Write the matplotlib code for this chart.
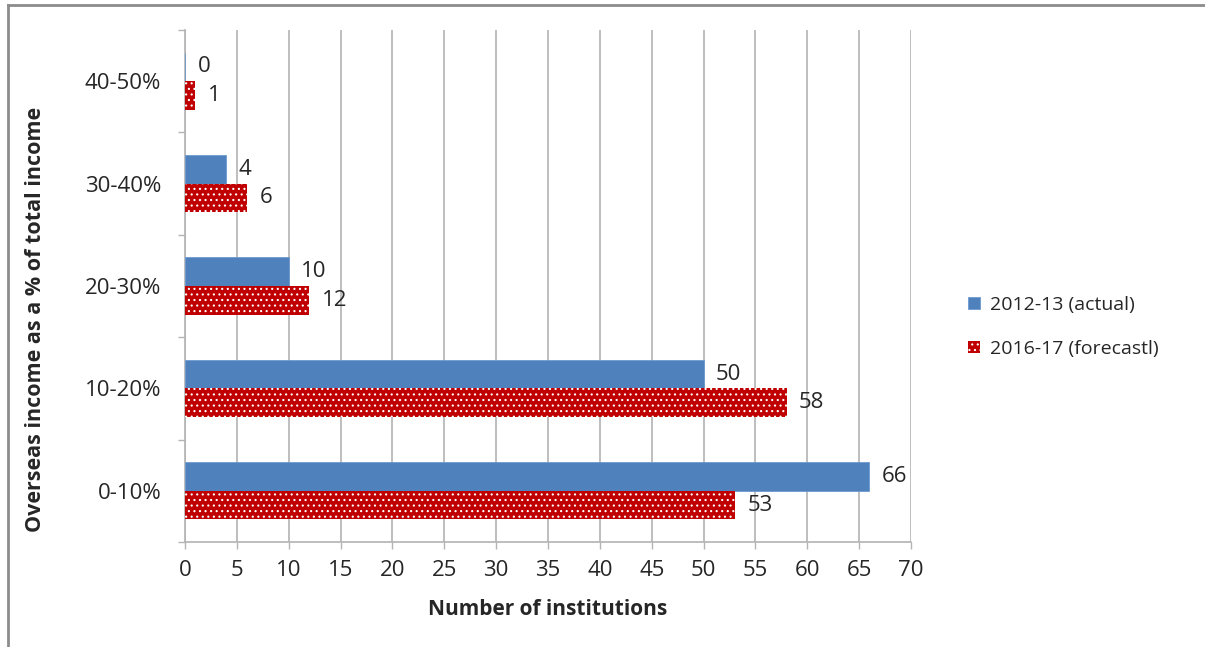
import matplotlib
matplotlib.use("Agg")
import matplotlib.pyplot as plt
import numpy as np
from matplotlib.lines import Line2D

plt.rcParams['font.family'] = ['Open Sans', 'DejaVu Sans']
plt.rcParams['hatch.linewidth'] = 0.8

categories = ["0-10%", "10-20%", "20-30%", "30-40%", "40-50%"]
actual_2012 = [66, 50, 10, 4, 0]
forecast_2016 = [53, 58, 12, 6, 1]
series_names = ["2012-13 (actual)", "2016-17 (forecastl)"]
x_ticks = list(range(0, 75, 5))

blue = "#4F81BD"
red = "#C00000"
grid_gray = "#B3B3B3"
text_color = "#262626"

fig = plt.figure(figsize=(12.05, 6.47), dpi=100)
ax = fig.add_axes([0.1535, 0.1623, 0.6025, 0.7913])

y = np.arange(len(categories))
h = 0.28
b1 = ax.barh(y + h / 2, actual_2012, height=h, color=blue, edgecolor="#6E9AD0",
             linewidth=0.6, label=series_names[0], zorder=3)
b2 = ax.barh(y - h / 2, forecast_2016, height=h, color=red, edgecolor="white",
             linewidth=0, hatch="...", label=series_names[1], zorder=3)

for cont in (b1, b2):
    ax.bar_label(cont, padding=9, fontsize=16, color=text_color)

ax.set_xlim(0, 70)
ax.set_ylim(-0.5, len(categories) - 0.5)
ax.set_xticks(x_ticks)
ax.tick_params(axis='x', labelsize=16, colors=grid_gray, labelcolor=text_color,
               length=5, width=1, pad=8)
ax.set_yticks(y)
ax.set_yticklabels(categories)
ax.tick_params(axis='y', which='major', length=0, pad=17, labelsize=16,
               labelcolor=text_color)
ax.set_yticks(np.arange(-0.5, len(categories)), minor=True)
ax.tick_params(axis='y', which='minor', length=5, width=1, color=grid_gray)

ax.grid(axis='x', color=grid_gray, linewidth=1.2, zorder=0)
ax.set_axisbelow(True)
for side in ("top", "right"):
    ax.spines[side].set_visible(False)
for side in ("left", "bottom"):
    ax.spines[side].set_color(grid_gray)
    ax.spines[side].set_linewidth(1.2)

ax.set_xlabel("Number of institutions", fontsize=15, fontweight='bold',
              color=text_color)
ax.xaxis.set_label_coords(0.5, -0.112)
ax.set_ylabel("Overseas income as a % of total income", fontsize=15.5,
              fontweight='bold', color=text_color)
ax.yaxis.set_label_coords(-0.191, 0.434)

ax.legend(loc='center left', bbox_to_anchor=(1.055, 0.42), frameon=False,
          fontsize=14, handlelength=0.6, handleheight=0.6, labelspacing=1.35,
          handletextpad=0.5, labelcolor=text_color)

# outer frame (left and top edges)
fig.add_artist(Line2D([0.0066, 0.0066], [0.0, 0.993], transform=fig.transFigure,
                      color="#8C8C8C", linewidth=2))
fig.add_artist(Line2D([0.0066, 1.0], [0.993, 0.993], transform=fig.transFigure,
                      color="#8C8C8C", linewidth=2))

fig.savefig("out.png", dpi=100, facecolor="white")
